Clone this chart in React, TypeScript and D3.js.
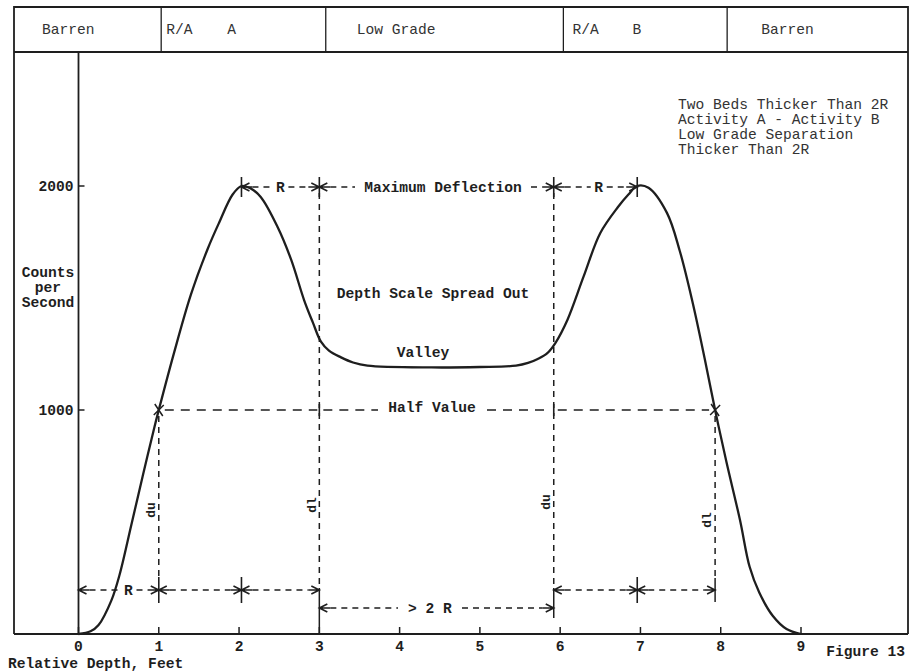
import React from "react";
import * as d3 from "d3";

// Gamma-ray log trace: relative depth (feet) vs counts per second
const depthFt = [0, 0.15, 0.25, 0.41, 0.51, 0.66, 0.8, 0.95, 1.0, 1.19, 1.4, 1.61, 1.75, 1.92, 2.03, 2.14, 2.27, 2.48, 2.65, 2.81, 2.92, 3.02, 3.12, 3.27, 3.42, 3.6, 4.4, 5.0, 5.45, 5.6, 5.72, 5.84, 5.94, 6.09, 6.29, 6.5, 6.72, 6.85, 6.96, 7.1, 7.33, 7.49, 7.65, 7.8, 7.93, 8.07, 8.24, 8.36, 8.48, 8.65, 8.82, 9.0];
const countsPerSec = [0, 12, 40, 150, 262, 490, 705, 930, 1000, 1255, 1515, 1720, 1835, 1962, 2000, 1990, 1951, 1817, 1670, 1491, 1390, 1305, 1265, 1235, 1212, 1198, 1190, 1192, 1198, 1210, 1228, 1254, 1299, 1402, 1594, 1790, 1906, 1962, 2000, 1992, 1880, 1710, 1480, 1230, 1000, 770, 509, 300, 185, 80, 22, 0];

const depthTicks = [0, 1, 2, 3, 4, 5, 6, 7, 8, 9];
const countTicks = [1000, 2000];

// Zone band across the top (edges in feet)
const zoneEdges = [1.03, 3.08, 6.04, 8.08];
const zoneTexts = [["Barren"], ["R/A", "A"], ["Low Grade"], ["R/A", "B"], ["Barren"]];

// Key depths of the interpretation
const duA = 1.0;
const peakA = 2.03;
const dlA = 3.0;
const duB = 5.92;
const peakB = 6.96;
const dlB = 7.93;
const maxCount = 2000;
const halfCount = 1000;

const noteLines = ["Two Beds Thicker Than 2R", "Activity A - Activity B", "Low Grade Separation", "Thicker Than 2R"];

const INK = "#1e1e1e";
const SOFT = "#333";
const FONT = "'Liberation Mono', 'DejaVu Sans Mono', monospace";
const FS = 14.6;
const DASH = "6 5";

const W = 912;
const H = 671;
const frameL = 14;
const frameR = 908;
const frameT = 7;
const bandB = 52;
const axisY = 634;

const x = d3.scaleLinear().domain([0, 9]).range([78.5, 801]);
const y = d3.scaleLinear().domain([0, 2000]).range([axisY, 186]);

const txt = {
  fontFamily: FONT,
  fontSize: FS,
  fontWeight: 700 as const,
  fill: INK,
};
const lightTxt = { ...txt, fontWeight: 400 as const, fill: SOFT };

function Arrow({ tip, y0, dir }: { tip: number; y0: number; dir: 1 | -1 }) {
  // dir = -1 points left, dir = 1 points right
  const b = tip - dir * 8;
  return (
    <path
      d={`M${b},${y0 - 4}L${tip},${y0}L${b},${y0 + 4}M${tip},${y0}L${b - dir * 3},${y0}`}
      fill="none"
      stroke={INK}
      strokeWidth={1.6}
    />
  );
}

function Dim({ x1, x2, y0, label, gap = 0, lx }: { x1: number; x2: number; y0: number; label?: string; gap?: number; lx?: number }) {
  const mid = lx ?? (x1 + x2) / 2;
  const a = x1 + 11;
  const b = x2 - 11;
  const segs: [number, number][] = label ? [[a, mid - gap / 2], [mid + gap / 2, b]] : [[a, b]];
  return (
    <g>
      <Arrow tip={x1} y0={y0} dir={-1} />
      <Arrow tip={x2} y0={y0} dir={1} />
      {segs.map(([s, e], i) => (
        <line key={i} x1={s} x2={e} y1={y0} y2={y0} stroke={INK} strokeWidth={1.5} strokeDasharray={DASH} />
      ))}
      {label && (
        <text x={mid} y={y0} dy="0.32em" textAnchor="middle" {...txt}>
          {label}
        </text>
      )}
    </g>
  );
}

function Cross({ cx, cy, h = 11 }: { cx: number; cy: number; h?: number }) {
  return <line x1={cx} x2={cx} y1={cy - h} y2={cy + h} stroke={INK} strokeWidth={1.6} />;
}

function XMark({ cx, cy }: { cx: number; cy: number }) {
  return (
    <path d={`M${cx - 4},${cy - 6}L${cx + 4},${cy + 6}M${cx + 5},${cy - 5}L${cx - 5},${cy + 5}`} stroke={INK} strokeWidth={1.5} />
  );
}

export default function App() {
  const pts = depthFt.map((d, i) => [d, countsPerSec[i]] as [number, number]);
  const line = d3
    .line<[number, number]>()
    .x((d) => x(d[0]))
    .y((d) => y(d[1]))
    .curve(d3.curveCatmullRom.alpha(0.5));

  const topY = y(maxCount) + 1;
  const halfY = y(halfCount);
  const row1 = 590;
  const row2 = 608;

  const zoneBounds = [frameL, ...zoneEdges.map((e) => x(e)), frameR];
  // text offsets inside each zone cell
  const zoneOffsets = [[28], [5, 66], [31], [9, 69], [34]];

  return (
    <svg width={W} height={H} style={{ display: "block", position: "absolute", left: 0, top: 0, background: "#fff" }}>
      <rect x={0} y={0} width={W} height={H} fill="#fff" />

      {/* outer frame and zone band */}
      <path
        d={`M${frameL},${axisY}L${frameL},${frameT}L${frameR},${frameT}L${frameR},${axisY}`}
        fill="none"
        stroke={INK}
        strokeWidth={1.8}
      />
      <line x1={frameL} x2={frameR} y1={bandB} y2={bandB} stroke={INK} strokeWidth={1.8} />
      {zoneEdges.map((e, i) => (
        <line key={i} x1={x(e)} x2={x(e)} y1={frameT} y2={bandB} stroke={INK} strokeWidth={1.3} />
      ))}
      {zoneTexts.map((parts, i) =>
        parts.map((p, j) => (
          <text key={`${i}-${j}`} x={zoneBounds[i] + zoneOffsets[i][j]} y={29} dy="0.32em" {...lightTxt}>
            {p}
          </text>
        ))
      )}

      {/* notes */}
      {noteLines.map((t, i) => (
        <text key={i} x={678} y={104 + i * 15} dy="0.32em" {...lightTxt}>
          {t}
        </text>
      ))}

      {/* axes */}
      <line x1={frameL} x2={frameR} y1={axisY} y2={axisY} stroke={INK} strokeWidth={2} />
      <line x1={x(0)} x2={x(0)} y1={bandB} y2={axisY} stroke={INK} strokeWidth={1.8} />
      {countTicks.map((c) => (
        <g key={c}>
          <line x1={x(0)} x2={x(0) + 6} y1={y(c)} y2={y(c)} stroke={INK} strokeWidth={1.5} />
          <text x={x(0) - 5} y={y(c)} dy="0.32em" textAnchor="end" {...txt}>
            {c}
          </text>
        </g>
      ))}
      {depthTicks.map((d) => (
        <g key={d}>
          <line x1={x(d)} x2={x(d)} y1={axisY} y2={axisY - 7} stroke={INK} strokeWidth={1.5} />
          <text x={x(d)} y={646} dy="0.32em" textAnchor="middle" {...txt}>
            {d}
          </text>
        </g>
      ))}
      {["Counts", "per", "Second"].map((t, i) => (
        <text key={t} x={48} y={272 + i * 15} dy="0.32em" textAnchor="middle" {...txt}>
          {t}
        </text>
      ))}
      <text x={8} y={663} dy="0.32em" {...txt}>
        Relative Depth, Feet
      </text>
      <text x={905} y={651} dy="0.32em" textAnchor="end" {...txt}>
        Figure 13
      </text>

      {/* vertical construction lines */}
      <line x1={x(dlA)} x2={x(dlA)} y1={topY + 6} y2={row1 - 2} stroke={INK} strokeWidth={1.5} strokeDasharray={DASH} />
      <line x1={x(dlA)} x2={x(dlA)} y1={row1 - 2} y2={axisY} stroke={INK} strokeWidth={1.5} />
      <line x1={x(duB)} x2={x(duB)} y1={topY + 6} y2={row1 - 2} stroke={INK} strokeWidth={1.5} strokeDasharray={DASH} />
      <line x1={x(duB)} x2={x(duB)} y1={row1 - 2} y2={row2 + 10} stroke={INK} strokeWidth={1.5} />
      <line x1={x(duA)} x2={x(duA)} y1={halfY + 6} y2={row1 - 12} stroke={INK} strokeWidth={1.5} strokeDasharray={DASH} />
      <line x1={x(dlB)} x2={x(dlB)} y1={halfY + 6} y2={row1 - 12} stroke={INK} strokeWidth={1.5} strokeDasharray={DASH} />

      {/* half value line */}
      <line x1={x(duA) + 6} x2={x(dlA) - 2} y1={halfY} y2={halfY} stroke={INK} strokeWidth={1.5} strokeDasharray="9 7" />
      <line x1={x(dlA) + 4} x2={378} y1={halfY} y2={halfY} stroke={INK} strokeWidth={1.5} strokeDasharray="9 7" />
      <line x1={487} x2={x(duB) - 3} y1={halfY} y2={halfY} stroke={INK} strokeWidth={1.5} strokeDasharray="9 7" />
      <line x1={x(duB) + 4} x2={x(dlB) - 6} y1={halfY} y2={halfY} stroke={INK} strokeWidth={1.5} strokeDasharray="9 7" />
      <Cross cx={x(dlA)} cy={halfY} h={6} />
      <Cross cx={x(duB)} cy={halfY} h={6} />
      <text x={432} y={halfY - 3} dy="0.32em" textAnchor="middle" {...txt}>
        Half Value
      </text>

      {/* maximum deflection row */}
      <Dim x1={x(peakA)} x2={x(dlA)} y0={topY} label="R" gap={16} />
      <Dim x1={x(dlA)} x2={x(duB)} y0={topY} label="Maximum Deflection" gap={176} lx={443} />
      <Dim x1={x(duB)} x2={x(peakB)} y0={topY} label="R" gap={16} lx={x(duB) + 45} />
      {[peakA, dlA, duB, peakB].map((d) => (
        <Cross key={d} cx={x(d)} cy={topY} h={10} />
      ))}

      {/* width rows at the bottom */}
      <Dim x1={x(0)} x2={x(duA)} y0={row1} label="R" gap={16} lx={x(0) + 50} />
      <Dim x1={x(duA)} x2={x(peakA)} y0={row1} />
      <Dim x1={x(peakA)} x2={x(dlA)} y0={row1} />
      <Dim x1={x(duB)} x2={x(peakB)} y0={row1} />
      <Dim x1={x(peakB)} x2={x(dlB)} y0={row1} />
      {[duA, peakA, peakB].map((d) => (
        <Cross key={d} cx={x(d)} cy={row1} h={13} />
      ))}
      <line x1={x(dlB)} x2={x(dlB)} y1={row1 - 12} y2={row1 + 12} stroke={INK} strokeWidth={1.5} />
      <Dim x1={x(dlA)} x2={x(duB)} y0={row2} label="> 2 R" gap={64} lx={430} />

      {/* labels */}
      <text x={433} y={293} dy="0.32em" textAnchor="middle" {...txt}>
        Depth Scale Spread Out
      </text>
      <text x={423} y={352} dy="0.32em" textAnchor="middle" {...txt}>
        Valley
      </text>
      {[
        [x(duA) - 8, 510, "du"],
        [x(dlA) - 8, 505, "dl"],
        [x(duB) - 8, 502, "du"],
        [x(dlB) - 8, 520, "dl"],
      ].map(([lx, ly, t], i) => (
        <text
          key={i}
          x={0}
          y={0}
          dy="0.32em"
          textAnchor="middle"
          transform={`translate(${lx},${ly}) rotate(-90)`}
          {...txt}
          fontSize={13}
        >
          {t}
        </text>
      ))}

      {/* log trace */}
      <path d={line(pts) ?? ""} fill="none" stroke={INK} strokeWidth={2.3} strokeLinejoin="round" />
      <XMark cx={x(duA)} cy={y(halfCount)} />
      <XMark cx={x(dlB)} cy={y(halfCount)} />
    </svg>
  );
}
